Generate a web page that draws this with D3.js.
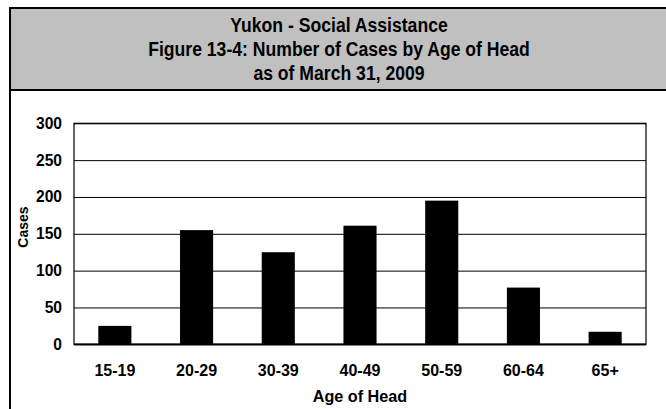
<!DOCTYPE html>
<meta charset="utf-8">
<style>
body { margin: 0; background: #fff; }
text { font-family: "Liberation Sans", Arial, sans-serif; font-weight: bold; fill: #000; }
</style>
<body>
<script src="https://cdnjs.cloudflare.com/ajax/libs/d3/7.8.5/d3.min.js"></script>
<script>
// chart data
var ageGroups = ["15-19", "20-29", "30-39", "40-49", "50-59", "60-64", "65+"];
var cases = [25, 155, 125, 161, 195, 77, 17];
var yTicks = [0, 50, 100, 150, 200, 250, 300];
var titleLines = ["Yukon - Social Assistance",
                  "Figure 13-4: Number of Cases by Age of Head",
                  "as of March 31, 2009"];

var width = 666, height = 409;
var plot = {left: 74, right: 646, top: 123.3, bottom: 344.3};

var svg = d3.select("body").append("svg")
    .attr("width", width)
    .attr("height", height);

// outer frame + grey header
svg.append("rect")
    .attr("x", 10).attr("y", 8)
    .attr("width", 680).attr("height", 82)
    .attr("fill", "#c0c0c0")
    .attr("stroke", "#000").attr("stroke-width", 2);
svg.append("rect")
    .attr("x", 10).attr("y", 90)
    .attr("width", 680).attr("height", 340)
    .attr("fill", "#fff")
    .attr("stroke", "#000").attr("stroke-width", 2);

// title is a little taller than wide in the original
svg.selectAll(".title")
    .data(titleLines)
  .enter().append("text")
    .attr("class", "title")
    .attr("transform", function(d, i) {
      return "translate(339," + (32 + i * 24) + ") scale(1,1.1)";
    })
    .attr("text-anchor", "middle")
    .style("font-size", "17.6px")
    .text(function(d) { return d; });

var x = d3.scaleBand()
    .domain(ageGroups)
    .range([plot.left, plot.right])
    .paddingInner(0.595)
    .paddingOuter(0.2975);

var y = d3.scaleLinear()
    .domain([0, 300])
    .range([plot.bottom, plot.top]);

// gridlines
svg.append("g")
    .attr("transform", "translate(" + plot.left + ",0)")
    .call(d3.axisLeft(y).tickValues(yTicks).tickSize(-(plot.right - plot.left)).tickFormat(""))
    .call(function(g) {
      g.select(".domain").remove();
      g.selectAll("line").attr("stroke", "#000").attr("stroke-width", 1);
    });

// plot border
svg.append("rect")
    .attr("x", plot.left).attr("y", plot.top)
    .attr("width", plot.right - plot.left)
    .attr("height", plot.bottom - plot.top)
    .attr("fill", "none")
    .attr("stroke", "#000").attr("stroke-width", 1.2);

// bars
svg.selectAll(".bar")
    .data(cases)
  .enter().append("rect")
    .attr("class", "bar")
    .attr("x", function(d, i) { return x(ageGroups[i]); })
    .attr("width", x.bandwidth())
    .attr("y", function(d) { return y(d); })
    .attr("height", function(d) { return y(0) - y(d); })
    .attr("fill", "#000");

// bottom axis line
svg.append("line")
    .attr("x1", plot.left).attr("x2", plot.right)
    .attr("y1", plot.bottom).attr("y2", plot.bottom)
    .attr("stroke", "#000").attr("stroke-width", 1.8);

// y tick labels
svg.append("g")
    .attr("transform", "translate(" + plot.left + ",0)")
    .call(d3.axisLeft(y).tickValues(yTicks).tickSize(0).tickPadding(12))
    .call(function(g) {
      g.select(".domain").remove();
      g.selectAll("text")
        .style("font-family", "'Liberation Sans', Arial, sans-serif")
        .style("font-weight", "bold")
        .style("font-size", "15.6px")
        .attr("fill", "#000");
    });

// x labels
svg.append("g")
    .attr("transform", "translate(0," + plot.bottom + ")")
    .call(d3.axisBottom(x).tickSize(0).tickPadding(20))
    .call(function(g) {
      g.select(".domain").remove();
      g.selectAll("text")
        .style("font-family", "'Liberation Sans', Arial, sans-serif")
        .style("font-weight", "bold")
        .style("font-size", "16px")
        .attr("fill", "#000");
    });

svg.append("text")
    .attr("x", 360)
    .attr("y", 402)
    .attr("text-anchor", "middle")
    .style("font-size", "16.2px")
    .text("Age of Head");

svg.append("text")
    .attr("transform", "translate(28,227) rotate(-90)")
    .attr("text-anchor", "middle")
    .style("font-size", "14px")
    .text("Cases");
</script>
</body>
